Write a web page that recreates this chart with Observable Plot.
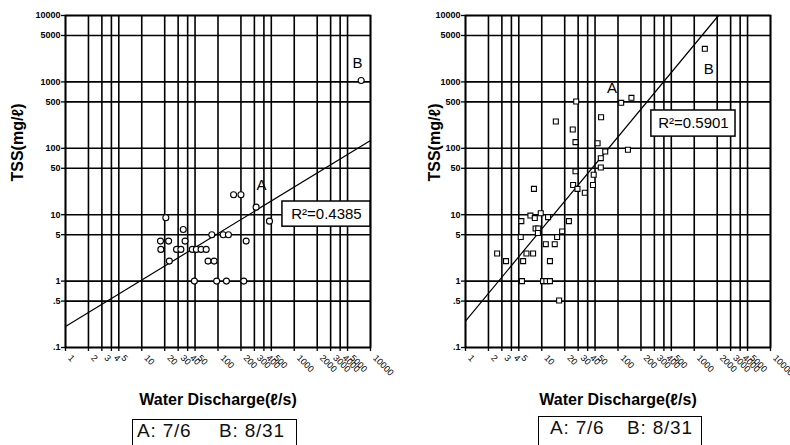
<!DOCTYPE html>
<html>
<head>
<meta charset="utf-8">
<script src="https://cdn.jsdelivr.net/npm/d3@7"></script>
<script src="https://cdn.jsdelivr.net/npm/@observablehq/plot@0.6"></script>
<style>
  html, body { margin: 0; padding: 0; background: #fff; overflow: hidden; }
  #wrap { position: relative; width: 790px; height: 445px; background: #fff; font-family: "Liberation Sans", Arial, sans-serif; }
  .panel { position: absolute; top: 0; }
  .legend { position: absolute; height: 40px; border: 1.5px solid #000; box-sizing: border-box; background: #fff; }
  .legend span { position: absolute; font-size: 19px; letter-spacing: 0.8px; line-height: 20px; top: 1px; white-space: pre; color: #111; }
</style>
</head>
<body>
<div id="wrap">
  <div id="left" class="panel" style="left:0px"></div>
  <div id="right" class="panel" style="left:395px"></div>
  <div class="legend" style="left:132px; top:419px; width:165px;"><span style="left:4px">A: 7/6</span><span style="left:86px">B: 8/31</span></div>
  <div class="legend" style="left:538px; top:416px; width:164px;"><span style="left:11px">A: 7/6</span><span style="left:88px">B: 8/31</span></div>
</div>
<script>
// ---- tick values ----
const xTicks = [1, 2, 3, 4, 5, 10, 20, 30, 40, 50, 100, 200, 300, 400, 500, 1000, 2000, 3000, 4000, 5000, 10000];
const yTicks = [0.1, 0.5, 1, 5, 10, 50, 100, 500, 1000, 5000, 10000];

// ---- left panel: circles ----
const leftQ   = [160, 200, 316, 473, 20.7, 35, 37, 17.6, 22.5, 234, 17.8, 28.6, 32.6, 46, 52, 60, 70, 23, 74, 89, 83, 117, 137, 49, 96, 129, 218, 7540];
const leftTSS = [20, 20, 13, 8, 9, 6, 4, 4, 4, 4, 3, 3, 3, 3, 3, 3, 3, 2, 2, 2, 5, 5, 5, 1, 1, 1, 1, 1050];
const leftFitQ   = [1, 10000];
const leftFitTSS = [0.207, 131];
const leftR2 = "R²=0.4385";
const leftR2Box = {x1: 700, x2: 10000, y1: 6.6, y2: 15.8};
const leftLetters = ["A", "B"];
const leftLetterQ = [371, 6760];
const leftLetterTSS = [27.5, 1890];

// ---- right panel: squares ----
const rightQ   = [2.6, 3.4, 5.4, 5.3, 5.5, 5.7, 6.3, 7.7, 7.1, 8.1, 8.3, 9.0, 8.9, 9.7, 12.1, 11.3, 14.8, 12.8, 15.9, 18.5, 22.7, 10.4, 11.5, 12.8, 16.9, 7.9, 25.8, 29.4, 36.7, 47, 48, 27.7, 59.5, 59.5, 68, 54, 27.7, 135, 25.5, 15.3, 60, 28.3, 110, 150, 1376];
const rightTSS = [2.6, 2.0, 8.0, 4.6, 1, 2.0, 2.6, 2.6, 9.7, 8.9, 6.2, 6.2, 5.3, 10.5, 9.2, 3.6, 3.6, 2.0, 4.6, 5.6, 8.0, 1, 1, 1, 0.51, 24.5, 28, 24.5, 21.4, 28, 40, 45, 51.4, 71, 89.5, 119, 124, 95, 192, 253, 294, 507, 484, 576, 3150];
const rightFitQ   = [1, 2080];
const rightFitTSS = [0.25, 10000];
const rightR2 = "R²=0.5901";
const rightR2Box = {x1: 274, x2: 3477, y1: 150, y2: 371};
const rightLetters = ["A", "B"];
const rightLetterQ = [83.4, 1550];
const rightLetterTSS = [815, 1575];

const xLabel = "Water Discharge(ℓ/s)";
const yLabel = "TSS(mg/ℓ)";

const zip = (xs, ys) => xs.map((x, i) => ({x, y: ys[i]}));
const yFmt = d => d < 1 ? String(d).replace(/^0/, "") : String(d);
const font = '"Liberation Sans", Arial, sans-serif';

function panel({marginLeft, marginRight, pts, symbol, r, fit, r2, box, letters, lq, lt, yLabelDx}) {
  return Plot.plot({
    width: 395,
    height: 445,
    marginLeft, marginRight,
    marginTop: 15,
    marginBottom: 98,
    style: {fontFamily: font, background: "transparent", color: "#000"},
    x: {type: "log", domain: [1, 10000]},
    y: {type: "log", domain: [0.1, 10000]},
    marks: [
      Plot.gridX(xTicks, {stroke: "#000", strokeOpacity: 1, strokeWidth: 1.6}),
      Plot.gridY(yTicks, {stroke: "#000", strokeOpacity: 1, strokeWidth: 1.6}),
      Plot.frame({stroke: "#000", strokeWidth: 1.7}),
      Plot.axisX(xTicks, {tickFormat: () => "", tickSize: 4, strokeWidth: 1.3, label: null}),
      Plot.axisY(yTicks, {tickFormat: () => "", tickSize: 4, strokeWidth: 1.3, label: null}),
      Plot.text(xTicks, {x: d => d, text: d => String(d), frameAnchor: "bottom", rotate: 45, textAnchor: "start", lineAnchor: "middle", dx: 4, dy: 9, fontSize: 9, fill: "#000"}),
      Plot.text(yTicks, {y: d => d, text: yFmt, frameAnchor: "left", textAnchor: "end", dx: -5, fontSize: 9, fontWeight: "bold", fill: "#000"}),
      Plot.line(fit, {x: "x", y: "y", stroke: "#000", strokeWidth: 1.2}),
      Plot.dot(pts, {x: "x", y: "y", r, symbol, stroke: "#000", strokeWidth: 1.1, fill: "#fff"}),
      Plot.rect([box], {x1: "x1", x2: "x2", y1: "y1", y2: "y2", fill: "#fff", stroke: "#000", strokeWidth: 1.5}),
      Plot.text([box], {x: d => Math.sqrt(d.x1 * d.x2), y: d => Math.sqrt(d.y1 * d.y2), text: () => r2, fontSize: 15, fill: "#000"}),
      Plot.text(letters, {x: (d, i) => lq[i], y: (d, i) => lt[i], text: d => d, fontSize: 15, fill: "#000"}),
      Plot.text([xLabel], {frameAnchor: "bottom", dy: 57, text: d => d, fontSize: 16, fontWeight: "bold", fill: "#000"}),
      Plot.text([yLabel], {frameAnchor: "left", dx: yLabelDx, rotate: -90, text: d => d, fontSize: 16, fontWeight: "bold", fill: "#000"})
    ]
  });
}

document.getElementById("left").append(panel({
  marginLeft: 65, marginRight: 25,
  pts: zip(leftQ, leftTSS), symbol: "circle", r: 3,
  fit: zip(leftFitQ, leftFitTSS), r2: leftR2, box: leftR2Box,
  letters: leftLetters, lq: leftLetterQ, lt: leftLetterTSS, yLabelDx: -48
}));
document.getElementById("right").append(panel({
  marginLeft: 70, marginRight: 20,
  pts: zip(rightQ, rightTSS), symbol: "square", r: 2.8,
  fit: zip(rightFitQ, rightFitTSS), r2: rightR2, box: rightR2Box,
  letters: rightLetters, lq: rightLetterQ, lt: rightLetterTSS, yLabelDx: -31
}));
</script>
</body>
</html>
